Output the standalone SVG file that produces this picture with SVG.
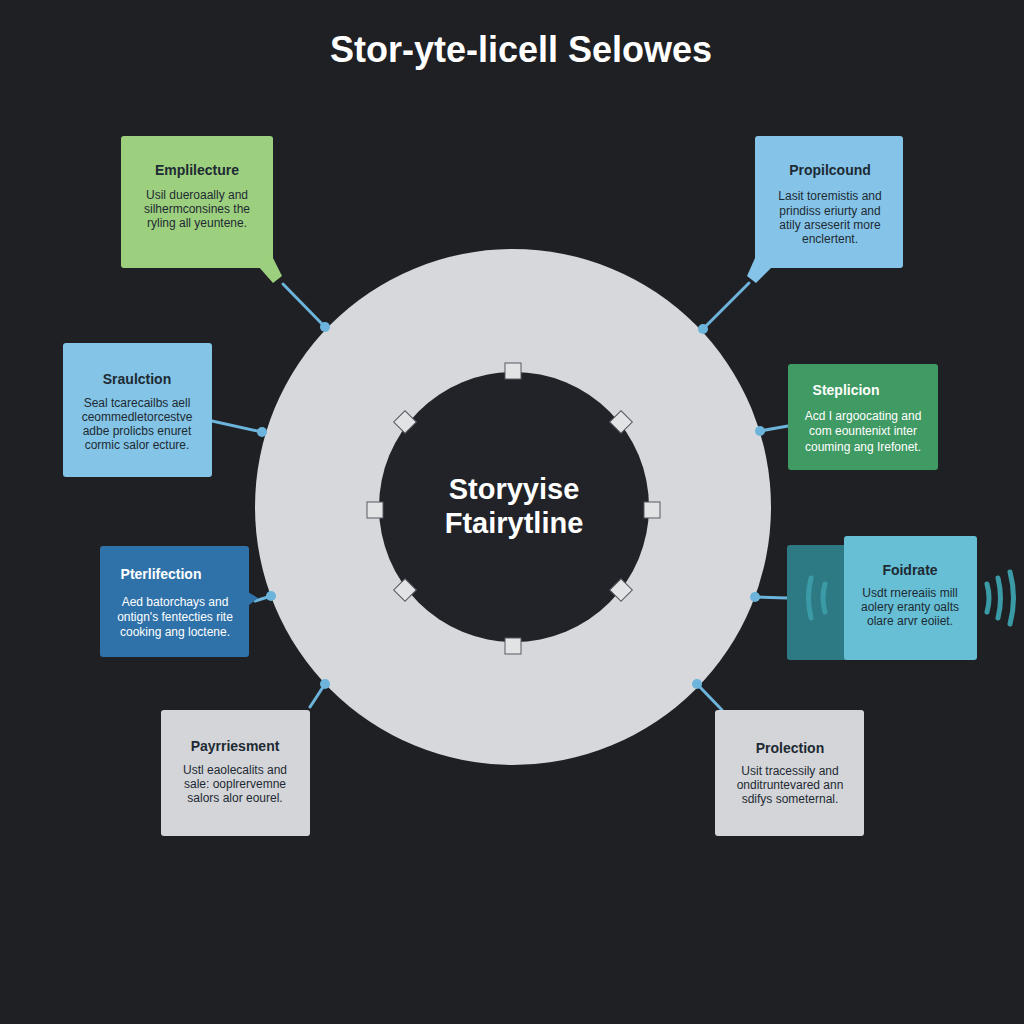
<svg xmlns="http://www.w3.org/2000/svg" width="1024" height="1024" viewBox="0 0 1024 1024">
<defs>
<style>
.title{font-family:"Liberation Sans",Arial,sans-serif;font-weight:bold;font-size:36px;fill:#ffffff;text-anchor:middle}
.center{font-family:"Liberation Sans",Arial,sans-serif;font-weight:bold;font-size:29px;fill:#ffffff;text-anchor:middle}
.h{font-family:"Liberation Sans",Arial,sans-serif;font-weight:bold;font-size:14px;text-anchor:middle}
.b{font-family:"Liberation Sans",Arial,sans-serif;font-size:12px;text-anchor:middle}
.dk{fill:#1d2a33}
.lt{fill:#ffffff}
.conn{stroke:#6cb4db;stroke-width:3;fill:none;stroke-linecap:round}
.dot{fill:#6cb4db}
.sq{fill:#e2e3e5;stroke:#555a60;stroke-width:1}
.wave{fill:none;stroke:#3a9aa6;stroke-width:5;stroke-linecap:round}
</style>
</defs>
<rect width="1024" height="1024" fill="#1f2023"/>
<text class="title" x="521" y="62">Stor-yte-licell Selowes</text>

<g id="hub">
<circle cx="513" cy="507" r="258" fill="#d6d8db"/>
<circle cx="514" cy="507" r="135" fill="#212328"/>
<rect class="sq" x="505" y="363" width="16" height="16"/>
<rect class="sq" x="505" y="638" width="16" height="16"/>
<rect class="sq" x="367" y="502" width="16" height="16"/>
<rect class="sq" x="644" y="502" width="16" height="16"/>
<rect class="sq" x="397" y="414" width="16" height="16" transform="rotate(45 405 422)"/>
<rect class="sq" x="613" y="414" width="16" height="16" transform="rotate(45 621 422)"/>
<rect class="sq" x="397" y="582" width="16" height="16" transform="rotate(45 405 590)"/>
<rect class="sq" x="613" y="582" width="16" height="16" transform="rotate(45 621 590)"/>
<text class="center" x="514" y="499">Storyyise</text>
<text class="center" x="514" y="533">Ftairytline</text>
</g>

<g id="connectors">
<line class="conn" x1="283" y1="284" x2="325" y2="327"/>
<circle class="dot" cx="325" cy="327" r="5"/>
<line class="conn" x1="749" y1="283" x2="703" y2="329"/>
<circle class="dot" cx="703" cy="329" r="5"/>
<line class="conn" x1="212" y1="421" x2="262" y2="432"/>
<circle class="dot" cx="262" cy="432" r="5"/>
<line class="conn" x1="788" y1="426" x2="760" y2="431"/>
<circle class="dot" cx="760" cy="431" r="5"/>
<line class="conn" x1="255" y1="601" x2="271" y2="596"/>
<circle class="dot" cx="271" cy="596" r="5"/>
<line class="conn" x1="787" y1="598" x2="755" y2="597"/>
<circle class="dot" cx="755" cy="597" r="5"/>
<line class="conn" x1="310" y1="707" x2="325" y2="684"/>
<circle class="dot" cx="325" cy="684" r="5"/>
<line class="conn" x1="722" y1="710" x2="697" y2="684"/>
<circle class="dot" cx="697" cy="684" r="5"/>
</g>

<g id="n1">
<rect x="121" y="136" width="152" height="132" rx="3" fill="#9dd07e"/>
<polygon points="258,266 273,258 282,276 273,283" fill="#9dd07e"/>
<text class="h dk" x="197" y="175">Emplilecture</text>
<text class="b dk" x="197" y="199">Usil dueroaally and</text>
<text class="b dk" x="197" y="213">silhermconsines the</text>
<text class="b dk" x="197" y="227">ryling all yeuntene.</text>
</g>

<g id="n2">
<rect x="755" y="136" width="148" height="132" rx="3" fill="#85c4e8"/>
<polygon points="755,258 772,267 756,283 747,276" fill="#85c4e8"/>
<text class="h dk" x="830" y="175">Propilcound</text>
<text class="b dk" x="830" y="200">Lasit toremistis and</text>
<text class="b dk" x="830" y="215">prindiss eriurty and</text>
<text class="b dk" x="830" y="229">atily arseserit more</text>
<text class="b dk" x="830" y="243">enclertent.</text>
</g>

<g id="n3">
<rect x="63" y="343" width="149" height="134" rx="3" fill="#84c4e6"/>
<text class="h dk" x="137" y="384">Sraulction</text>
<text class="b dk" x="137" y="407">Seal tcarecailbs aell</text>
<text class="b dk" x="137" y="421">ceommedletorcestve</text>
<text class="b dk" x="137" y="435">adbe prolicbs enuret</text>
<text class="b dk" x="137" y="449">cormic salor ecture.</text>
</g>

<g id="n4">
<rect x="788" y="364" width="150" height="106" rx="3" fill="#3f9a63"/>
<text class="h lt" x="846" y="395">Steplicion</text>
<text class="b lt" x="863" y="420">Acd I argoocating and</text>
<text class="b lt" x="863" y="435">com eountenixt inter</text>
<text class="b lt" x="863" y="451">couming ang Irefonet.</text>
</g>

<g id="n5">
<rect x="100" y="546" width="149" height="111" rx="3" fill="#2f72a9"/>
<polygon points="248,592 258,598 248,606" fill="#2f72a9"/>
<text class="h lt" x="161" y="579">Pterlifection</text>
<text class="b lt" x="175" y="606">Aed batorchays and</text>
<text class="b lt" x="175" y="621">ontign's fentecties rite</text>
<text class="b lt" x="175" y="636">cooking ang loctene.</text>
</g>

<g id="n6">
<rect x="787" y="545" width="70" height="115" rx="3" fill="#2d7a84"/>
<path class="wave" d="M811 578 Q806 598 811 618"/>
<path class="wave" d="M825 584 Q821 598 825 612"/>
<path class="wave" d="M987 584 Q991 598 987 612"/>
<path class="wave" d="M998 578 Q1003 598 998 618"/>
<path class="wave" d="M1010 572 Q1017 598 1010 624"/>
<rect x="844" y="536" width="133" height="124" rx="3" fill="#67bfd5"/>
<text class="h dk" x="910" y="575">Foidrate</text>
<text class="b dk" x="910" y="597">Usdt rnereaiis mill</text>
<text class="b dk" x="910" y="611">aolery eranty oalts</text>
<text class="b dk" x="910" y="625">olare arvr eoiiet.</text>
</g>

<g id="n7">
<rect x="161" y="710" width="149" height="126" rx="3" fill="#d4d5d8"/>
<text class="h dk" x="235" y="751">Payrriesment</text>
<text class="b dk" x="235" y="774">Ustl eaolecalits and</text>
<text class="b dk" x="235" y="788">sale: ooplrervemne</text>
<text class="b dk" x="235" y="802">salors alor eourel.</text>
</g>

<g id="n8">
<rect x="715" y="710" width="149" height="126" rx="3" fill="#d4d5d8"/>
<text class="h dk" x="790" y="753">Prolection</text>
<text class="b dk" x="790" y="775">Usit tracessily and</text>
<text class="b dk" x="790" y="789">onditruntevared ann</text>
<text class="b dk" x="790" y="803">sdifys someternal.</text>
</g>
</svg>
